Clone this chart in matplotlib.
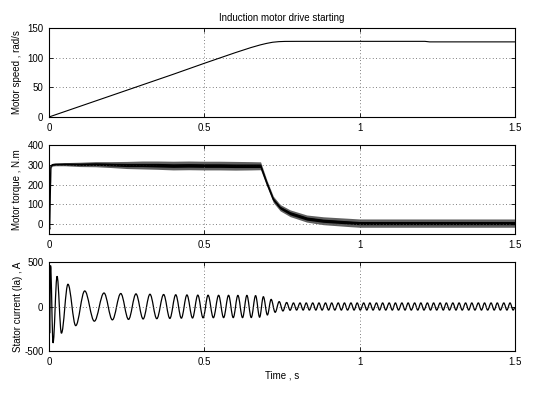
import numpy as np
import matplotlib
matplotlib.use("Agg")
import matplotlib.pyplot as plt
from matplotlib.path import Path
from matplotlib.patches import PathPatch

plt.rcParams['font.family'] = ['Liberation Sans', 'DejaVu Sans']
plt.rcParams['font.size'] = 7

# ---------------- data ----------------
title = "Induction motor drive starting"
xticks = [0, 0.5, 1, 1.5]
xtick_labels = ["0", "0.5", "1", "1.5"]

# Motor speed (rad/s)
speed_t = [0, 0.1, 0.2, 0.3, 0.4, 0.5, 0.6, 0.65, 0.68, 0.7, 0.72, 0.74, 0.76,
           0.8, 1.0, 1.21, 1.225, 1.5]
speed_v = [0, 18, 36, 54, 72, 90.5, 108.5, 117, 121.5, 124, 126, 127, 127.4,
           127.5, 127.5, 127.5, 126.6, 126.6]
speed_ticks = [0, 50, 100, 150]

# Motor torque (N.m) : centre line and noise envelopes
torque_t = [0, 0.002, 0.004, 0.006, 0.01, 0.02, 0.05, 0.1, 0.15, 0.2, 0.25,
            0.3, 0.35, 0.4, 0.45, 0.5, 0.55, 0.6, 0.65, 0.681, 0.701, 0.722,
            0.744, 0.776, 0.83, 0.883, 0.969, 1.0, 1.1, 1.2, 1.3, 1.4, 1.5]
torque_c = [0, -25, 150, 290, 300, 302, 303, 302, 303, 301, 299, 299, 298,
            296, 297, 296, 296, 295, 295, 295, 208, 125, 83, 55, 28, 17, 8,
            5, 5, 5, 5, 5, 5]
torque_outer = [0, 5, 15, 8, 7, 7, 8, 11, 13, 15, 18, 20, 21, 22, 22, 22,
                22, 22, 21, 20, 16, 16, 16, 17, 18, 20, 21, 21, 21, 21, 21,
                21, 21]
torque_inner = [0, 2, 6, 3, 3, 3, 4, 5, 6, 7, 8, 8, 9, 9, 9, 9, 9, 9,
                9, 9, 7, 7, 7, 8, 8, 8, 8, 8, 8, 8, 8, 8, 8]
torque_ticks = [0, 100, 200, 300, 400]

# Stator current Ia (A): times and values of successive extrema
current_peak_t = [0.005, 0.026, 0.061, 0.115, 0.177, 0.231, 0.280, 0.325,
                  0.369, 0.408, 0.444, 0.479, 0.512, 0.546, 0.578, 0.608,
                  0.637, 0.665, 0.690, 0.715, 0.741, 0.765,
                  0.787, 0.808, 0.828, 0.849, 0.869, 0.890, 0.910, 0.931,
                  0.951, 0.972, 0.992, 1.013, 1.033, 1.054, 1.074, 1.095,
                  1.115, 1.136, 1.156, 1.177, 1.197, 1.218, 1.238, 1.259,
                  1.279, 1.300, 1.320, 1.341, 1.361, 1.382, 1.402, 1.423,
                  1.443, 1.464, 1.484]
current_peak_a = [460, 340, 250, 175, 152, 146, 142, 138,
                  135, 132, 130, 128, 127, 126, 126, 125,
                  125, 122, 110, 80, 55, 45,
                  40, 40, 40, 40, 40, 40, 40, 40,
                  40, 40, 40, 40, 40, 40, 40, 40,
                  40, 40, 40, 40, 40, 40, 40, 40,
                  40, 40, 40, 40, 40, 40, 40, 40,
                  40, 40, 40]
current_trough_t = [0.002, 0.013, 0.040, 0.086, 0.146, 0.204, 0.256, 0.303,
                    0.347, 0.389, 0.426, 0.462, 0.496, 0.529, 0.562, 0.593,
                    0.623, 0.651, 0.678, 0.703, 0.728, 0.753,
                    0.776, 0.797, 0.818, 0.838, 0.859, 0.879, 0.900, 0.920,
                    0.941, 0.961, 0.982, 1.002, 1.023, 1.043, 1.064, 1.084,
                    1.105, 1.125, 1.146, 1.166, 1.187, 1.207, 1.228, 1.248,
                    1.269, 1.289, 1.310, 1.330, 1.351, 1.371, 1.392, 1.412,
                    1.433, 1.453, 1.474, 1.494]
current_trough_a = [-300, -410, -300, -215, -165, -150, -145, -140,
                    -137, -134, -131, -129, -127, -126, -125, -125,
                    -125, -124, -120, -95, -65, -50,
                    -42, -40, -40, -40, -40, -40, -40, -40,
                    -40, -40, -40, -40, -40, -40, -40, -40,
                    -40, -40, -40, -40, -40, -40, -40, -40,
                    -40, -40, -40, -40, -40, -40, -40, -40,
                    -40, -40, -40, -40]
current_ticks = [-500, 0, 500]

# ---------------- figure ----------------
fig, axes = plt.subplots(3, 1, figsize=(5.33, 3.96), dpi=100, sharex=False)
fig.subplots_adjust(left=49/533, right=515/533, top=1-28/396,
                    bottom=1-351/396, hspace=0.315)


def style(ax):
    ax.set_xlim(0, 1.5)
    ax.set_xticks(xticks)
    ax.set_xticklabels(xtick_labels)
    ax.grid(True, linestyle=(0, (1, 3)), color='#555555', linewidth=0.6)
    ax.tick_params(direction='in', length=3, width=0.6, top=True, right=True,
                   labelsize=7, pad=4)
    for s in ax.spines.values():
        s.set_linewidth(0.8)
        s.set_color('black')


# speed
ax = axes[0]
ax.plot(speed_t, speed_v, color='black', linewidth=0.8)
ax.set_ylim(0, 150)
ax.set_yticks(speed_ticks)
ax.set_ylabel("Motor speed , rad/s", labelpad=4)
ax.set_title(title, fontsize=7, pad=5)
style(ax)

# torque
ax = axes[1]
tc = np.array(torque_c, float)
to = np.array(torque_outer, float)
ti = np.array(torque_inner, float)
ax.fill_between(torque_t, tc - to, tc + to, color='#606060', linewidth=0)
ax.fill_between(torque_t, tc - ti, tc + ti, color='black', linewidth=0)
ax.plot(torque_t, torque_c, color='black', linewidth=1.0)
ax.set_ylim(-50, 400)
ax.set_yticks(torque_ticks)
ax.set_ylabel("Motor torque , N.m", labelpad=4)
style(ax)

# current: smooth curve through the extrema
ax = axes[2]
pts = sorted([(0.0, 0.0)] + list(zip(current_peak_t, current_peak_a)) +
             list(zip(current_trough_t, current_trough_a)) + [(1.5, -10.0)])
verts = [pts[0]]
codes = [Path.MOVETO]
k = 0.36
for (t0, a0), (t1, a1) in zip(pts[:-1], pts[1:]):
    dt = t1 - t0
    verts += [(t0 + k * dt, a0), (t1 - k * dt, a1), (t1, a1)]
    codes += [Path.CURVE4] * 3
ax.add_patch(PathPatch(Path(verts, codes), fill=False, edgecolor='black',
                       linewidth=0.9, transform=ax.transData))
ax.set_ylim(-500, 500)
ax.set_yticks(current_ticks)
ax.set_yticklabels(["-500", "0", "500"])
ax.set_ylabel("Stator current (Ia) , A", labelpad=1)
ax.set_xlabel("Time , s", labelpad=3)
style(ax)

fig.savefig("out.png", dpi=100)
